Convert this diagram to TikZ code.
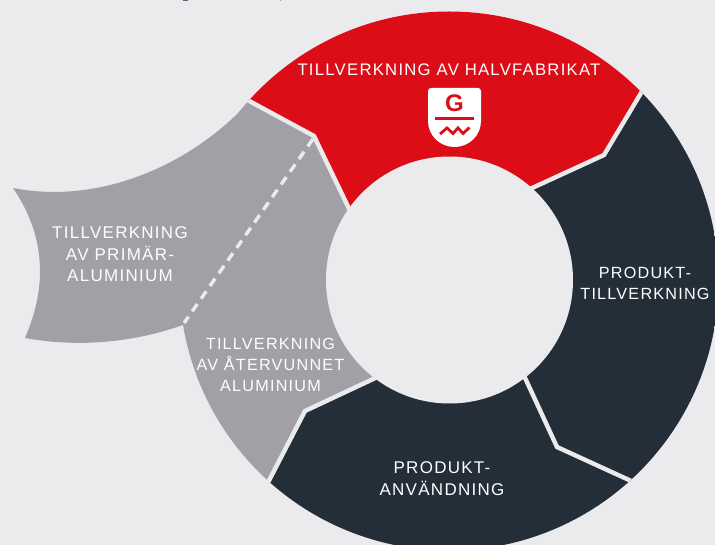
\documentclass[tikz,border=0pt]{standalone}
\usepackage{fontspec}
\setmainfont{Liberation Sans}
\newfontfamily\labelfont[LetterSpace=7.5]{Liberation Sans}
\definecolor{bgc}{HTML}{EBEBED}
\definecolor{redc}{HTML}{DD0D17}
\definecolor{darkc}{HTML}{232E39}
\definecolor{grayc}{HTML}{A1A0A6}
\tikzset{
  lbl/.style={text=white!95!bgc,align=center,inner sep=0pt,font=\labelfont\fontsize{17}{21.5}\selectfont},
  lblsmall/.style={lbl,font=\labelfont\fontsize{16.2}{21}\selectfont},
  gap/.style={draw=bgc,line width=4.4pt,line join=miter},
}
\begin{document}
\begin{tikzpicture}[x=1pt,y=-1pt]
\useasboundingbox (0,0) rectangle (715,545);
\fill[bgc] (0,0) rectangle (715,545);
\coordinate (C) at (449,281);
% cropped marks at the top edge
\fill[darkc!70!bgc] (182.5,0) rectangle (188,1.2);
\fill[darkc!40!bgc] (279.5,0) rectangle (281,1.2);
% primary aluminium lobe
\fill[grayc] (247,104) .. controls (190,165) and (100,205) .. (13,188)
  .. controls (45,235) and (48,285) .. (25,338)
  .. controls (80,348) and (135,342) .. (183,325) -- (315,137) -- cycle;
\begin{scope}
  \clip (C) circle[radius=269.5];
  \fill[redc] (354,219) -- (314,136) -- (240,96) -- (240,0) -- (660,0) -- (641,93) -- (604,155) -- (518,194.5) -- cycle;
  \fill[darkc] (518,194.5) -- (604,155) -- (641,93) -- (660,60) -- (730,100) -- (730,560) -- (629,480) -- (557,447) -- (520,367) -- cycle;
  \fill[darkc] (520,367) -- (557,447) -- (629,480) -- (660,560) -- (260,560) -- (269.5,480.5) -- (305,411) -- (386,373) -- cycle;
  \fill[grayc] (386,373) -- (305,411) -- (269.5,480.5) -- (250,520) -- (150,400) -- (150,300) -- (240,96) -- (314,136) -- (354,219) -- cycle;
  \draw[gap] (354,219) -- (314,136) -- (240,96);
  \draw[gap] (518,194.5) -- (604,155) -- (650,78);
  \draw[gap] (520,367) -- (557,447) -- (640,485);
  \draw[gap] (386,373) -- (305,411) -- (260,498);
\end{scope}
\fill[bgc] (449.5,280) circle[radius=123.5];
\draw[bgc,line width=3.4pt,dash pattern=on 9pt off 6.5pt] (313,139) -- (184,323);
% shield logo
\fill[white] (431,88) -- (478,88) to[out=0,in=90] (481,91) -- (481,121)
  arc[start angle=0,end angle=180,x radius=26.5,y radius=26] -- (428,91) to[out=90,in=180] cycle;
\node[inner sep=0pt,text=redc,font=\bfseries\fontsize{24}{24}\selectfont] (glogo) at (454.5,103.5) {G};
\fill[redc] (435,117.5) rectangle (474,120.5);
\draw[redc,line width=2.8pt,line join=miter] (440,134) -- (447,128) -- (453,133.5) -- (458,128) -- (463,133.5) -- (469.5,127.5);
% labels
\node[lbl,font=\labelfont\fontsize{16.7}{21.5}\selectfont] (halv) at (449,70) {TILLVERKNING AV HALVFABRIKAT};
\node[lbl] (prim) at (120,254.5) {TILLVERKNING\\AV PRIMÄR-\\ALUMINIUM};
\node[lblsmall] (ater) at (270.5,364.5) {TILLVERKNING\\AV ÅTERVUNNET\\ALUMINIUM};
\node[lblsmall] (tillv) at (645,283) {PRODUKT-\\TILLVERKNING};
\node[lbl] (anv) at (442,478.5) {PRODUKT-\\ANVÄNDNING};
\end{tikzpicture}
\end{document}
